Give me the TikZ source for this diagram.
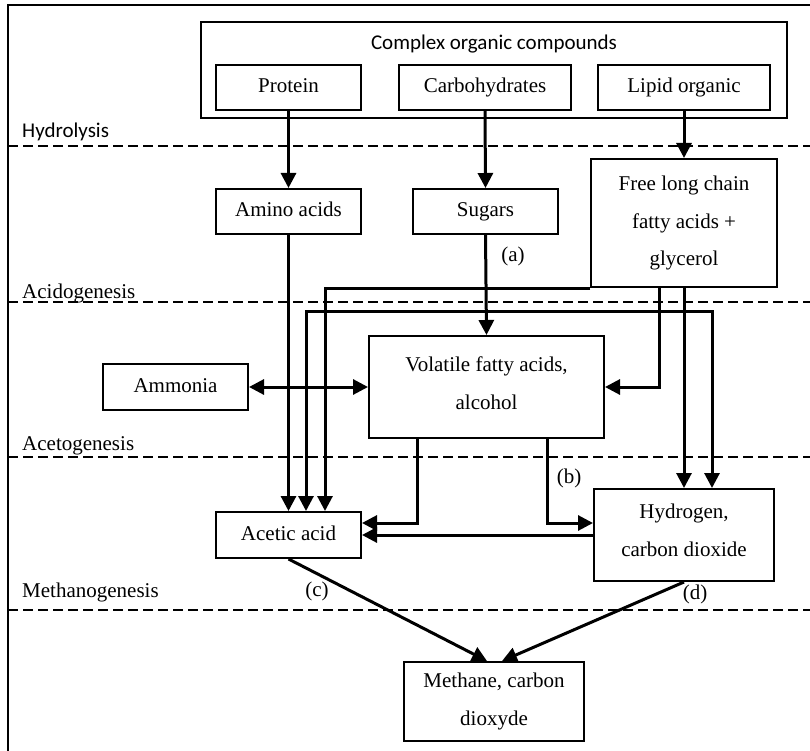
\documentclass[tikz,border=0pt]{standalone}
\usepackage{fontspec}
\setmainfont{Liberation Serif}
\newfontfamily\calib{Carlito}
\usetikzlibrary{arrows.meta,calc}

\tikzset{
  box/.style={draw, line width=2pt, inner sep=2pt, align=center,
              font=\fontsize{21}{37.5}\selectfont},
  oneline/.style={text height=14pt, text depth=4pt},
  arr/.style={line width=3pt, -{Triangle[length=15pt,width=15pt]}},
  biarr/.style={line width=3pt, {Triangle[length=15pt,width=15pt]}-{Triangle[length=15pt,width=15pt]}},
  stageline/.style={line width=2pt, dash pattern=on 9.5pt off 5.5pt},
  stagelabel/.style={anchor=base west, inner sep=0pt, font=\fontsize{21}{25}\selectfont},
  tag/.style={inner sep=0pt, font=\fontsize{21}{25}\selectfont},
}
% extra depth below a last line, to lift a multi-line label inside its box
\newcommand{\lift}[1]{\rule[-#1]{0pt}{0pt}}

\begin{document}
\begin{tikzpicture}[x=1pt, y=-1pt]
\useasboundingbox (0,0) rectangle (810,751);

% frame
\draw[line width=2.2pt] (8,751) -- (8,5) -- (810,5);

% stage separators and their names
\draw[stageline] (8,146) -- (810,146);
\draw[stageline] (8,302) -- (810,302);
\draw[stageline] (8,457) -- (810,457);
\draw[stageline] (8,610) -- (810,610);
\node[stagelabel, font=\calib\fontsize{21}{25}\selectfont] (lhyd) at (22,138) {Hydrolysis};
\node[stagelabel] (lacid) at (22,298) {Acidogenesis};
\node[stagelabel] (lacet) at (22,450) {Acetogenesis};
\node[stagelabel] (lmeth) at (22,597) {Methanogenesis};

% substrates
\node[box, minimum width=586pt, minimum height=96pt] (cplx) at (494,70) {};
\node[inner sep=0pt, anchor=base, font=\calib\fontsize{21}{25}\selectfont] (cplxt) at (494,50) {Complex organic compounds};
\node[box, oneline, minimum width=145pt, minimum height=45pt] (prot) at (288.5,87.5) {Protein};
\node[box, oneline, minimum width=172pt, minimum height=45pt] (carb) at (485,87.5) {Carbohydrates};
\node[box, oneline, minimum width=172pt, minimum height=45pt] (lipid) at (684,87.5) {Lipid organic};

% hydrolysis products
\node[box, oneline, minimum width=145pt, minimum height=45pt] (amino) at (288.5,211.5) {Amino acids};
\node[box, oneline, minimum width=145pt, minimum height=45pt] (sugar) at (485.5,211.5) {Sugars};
\node[box, minimum width=186pt, minimum height=128pt] (flc) at (684,223) {Free long chain\\fatty acids +\\glycerol\lift{2pt}};

% acidogenesis products
\node[box, oneline, minimum width=145pt, minimum height=46pt] (amm) at (175.5,387) {Ammonia};
\node[box, minimum width=235pt, minimum height=102pt] (vfa) at (486.5,387) {Volatile fatty acids,\\alcohol\lift{8pt}};

% acetogenesis products
\node[box, oneline, minimum width=145pt, minimum height=46pt] (acetic) at (288.5,535) {Acetic acid};
\node[box, minimum width=180pt, minimum height=92pt] (hyd) at (684,535) {Hydrogen,\\carbon dioxide\lift{10pt}};

% methanogenesis product
\node[box, minimum width=180pt, minimum height=79pt] (meth) at (494,701.5) {Methane, carbon\\dioxyde};

% routing lanes
\coordinate (laneA) at (306,0);
\coordinate (laneB) at (325,0);
\coordinate (laneC) at (417,0);
\coordinate (laneD) at (547,0);
\coordinate (laneE) at (659,0);
\coordinate (laneF) at (712,0);
\coordinate (rowA) at (0,311);
\coordinate (rowB) at (0,523);

% hydrolysis
\draw[arr] (prot.south) -- (amino.north);
\draw[arr] (carb.south) -- (sugar.north);
\draw[arr] (lipid.south) -- (flc.north);

% acidogenesis
\draw[arr] (amino.south) -- (acetic.north);
\draw[arr] (sugar.south) -- (vfa.north);
\draw[biarr] (amm.east) -- (vfa.west);
\draw[arr] (flc.south west) -| (laneB |- acetic.north);
\draw[biarr] (laneA |- acetic.north) |- (laneF |- rowA) -- (laneF |- hyd.north);
\draw[arr] (laneE |- flc.south) |- (vfa.east);
\draw[arr] (flc.south) -- (hyd.north);

% acetogenesis
\draw[arr] (laneC |- vfa.south) |- (acetic.east |- rowB);
\draw[arr] (laneD |- vfa.south) |- (hyd.west |- rowB);
\draw[arr] (hyd.west) -- (acetic.east);

% methanogenesis
\draw[arr] (acetic.south) -- ($(meth.north)+(-7,0)$);
\draw[arr] (hyd.south) -- ($(meth.north)+(8,0)$);

% pathway tags
\node[tag] (ta) at (513,256) {(a)};
\node[tag] (tb) at (569,478) {(b)};
\node[tag] (tc) at (317,591) {(c)};
\node[tag] (td) at (695,594) {(d)};
\end{tikzpicture}
\end{document}
